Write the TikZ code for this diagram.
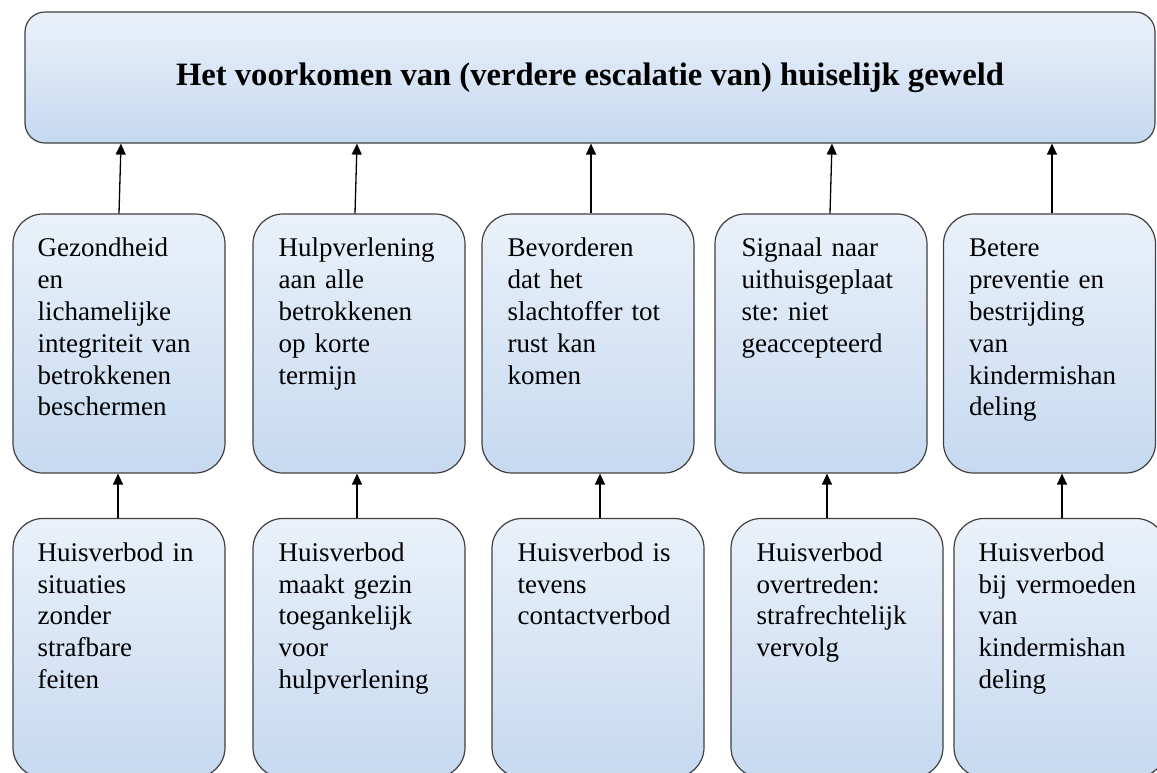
\documentclass[tikz,border=0pt]{standalone}
\usepackage{fontspec}
\setmainfont{Liberation Serif}
\usetikzlibrary{arrows.meta}
\frenchspacing
\definecolor{boxtop}{HTML}{EAF1FA}
\definecolor{boxbot}{HTML}{C6D9F0}
\definecolor{boxline}{HTML}{404040}
\tikzset{
  box/.style={draw=boxline, line width=1.2pt, top color=boxtop, bottom color=boxbot,
    rounded corners=30pt, minimum width=212pt, minimum height=259pt, inner sep=0pt},
  topbox/.style={box, rounded corners=20pt, minimum width=1130pt, minimum height=131pt},
  boxtext/.style={anchor=north west, inner sep=0pt, align=left, text width=190pt,
    font=\fontsize{27}{31.8}\selectfont},
  conn/.style={draw=black, line width=1.3pt, -{Triangle[width=10pt,length=11pt]}}
}
\begin{document}
\begin{tikzpicture}[x=1pt,y=-1pt]
\useasboundingbox (0,0) rectangle (1157,772);
% top
\node[topbox] (top) at (590,77.5) {\fontsize{32.6}{38}\selectfont\bfseries Het voorkomen van (verdere escalatie van) huiselijk geweld};
% middle row
\node[box] (m1) at (119,343.5) {};
\node[box] (m2) at (359,343.5) {};
\node[box] (m3) at (588,343.5) {};
\node[box] (m4) at (821,343.5) {};
\node[box] (m5) at (1049.5,343.5) {};
% bottom row
\node[box] (b1) at (119,648) {};
\node[box] (b2) at (359,648) {};
\node[box] (b3) at (598,648) {};
\node[box] (b4) at (837,648) {};
\node[box] (b5) at (1060,648) {};
% texts
\node[boxtext] (m1t) at ([xshift=25pt,yshift=-21pt]m1.north west) {\strut Gezondheid\\en\\lichamelijke\\integriteit van\\betrokkenen\\beschermen};
\node[boxtext] (m2t) at ([xshift=26pt,yshift=-21pt]m2.north west) {\strut Hulpverlening\\aan alle\\betrokkenen\\op korte\\termijn};
\node[boxtext] (m3t) at ([xshift=26pt,yshift=-21pt]m3.north west) {\strut Bevorderen\\dat het\\slachtoffer tot\\rust kan\\komen};
\node[boxtext] (m4t) at ([xshift=27pt,yshift=-21pt]m4.north west) {\strut Signaal naar\\uithuisgeplaat\\ste: niet\\geaccepteerd};
\node[boxtext] (m5t) at ([xshift=26pt,yshift=-21pt]m5.north west) {\strut Betere\\preventie en\\bestrijding\\van\\kindermishan\\deling};
\node[boxtext] (b1t) at ([xshift=25pt,yshift=-21pt]b1.north west) {\strut Huisverbod in\\situaties\\zonder\\strafbare\\feiten};
\node[boxtext] (b2t) at ([xshift=26pt,yshift=-21pt]b2.north west) {\strut Huisverbod\\maakt gezin\\toegankelijk\\voor\\hulpverlening};
\node[boxtext] (b3t) at ([xshift=26pt,yshift=-21pt]b3.north west) {\strut Huisverbod is\\tevens\\contactverbod};
\node[boxtext] (b4t) at ([xshift=26pt,yshift=-21pt]b4.north west) {\strut Huisverbod\\overtreden:\\strafrechtelijk\\vervolg};
\node[boxtext] (b5t) at ([xshift=25pt,yshift=-21pt]b5.north west) {\strut Huisverbod\\bij vermoeden\\van\\kindermishan\\deling};
% connectors middle -> top
\draw[conn] (m1.north) -- ([xshift=-469pt]top.south);
\draw[conn] ([xshift=-4pt]m2.north) -- ([xshift=-233pt]top.south);
\draw[conn] ([xshift=3pt]m3.north) -- ([xshift=1pt]top.south);
\draw[conn] ([xshift=9pt]m4.north) -- ([xshift=242pt]top.south);
\draw[conn] ([xshift=2.5pt]m5.north) -- ([xshift=462pt]top.south);
% connectors bottom -> middle
\draw[conn] ([xshift=-1pt]b1.north) -- ([xshift=-1pt]m1.south);
\draw[conn] ([xshift=-2pt]b2.north) -- ([xshift=-2pt]m2.south);
\draw[conn] ([xshift=2pt]b3.north) -- ([xshift=12pt]m3.south);
\draw[conn] ([xshift=-10pt]b4.north) -- ([xshift=6pt]m4.south);
\draw[conn] ([xshift=2pt]b5.north) -- ([xshift=12.5pt]m5.south);
\end{tikzpicture}
\end{document}
